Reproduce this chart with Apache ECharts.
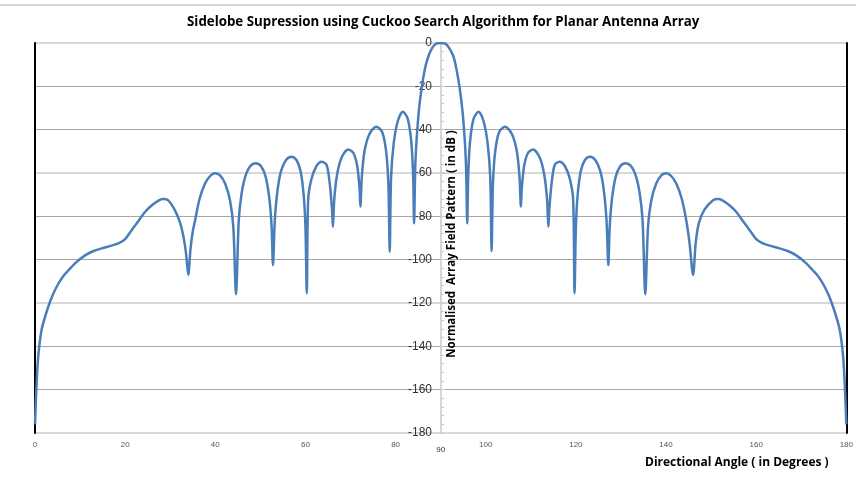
<!DOCTYPE html>
<html>
<head>
<meta charset="utf-8">
<script src="https://cdn.jsdelivr.net/npm/echarts@6/dist/echarts.min.js"></script>
<style>
  html, body { margin: 0; padding: 0; background: #fff; }
  #pattern-chart { width: 856px; height: 477px; }
</style>
</head>
<body>
<div id="pattern-chart"></div>
<script>
// directional angle (degrees) and normalised array field pattern (dB)
const angles = [
  0, 0.3, 0.7, 1.5, 2.9, 4.0, 5.2, 6.3, 7.4, 9.0, 11.1, 13.0, 14.8, 17.0, 18.5, 20.0,
  21.4, 23.0, 24.4, 26.0, 27.5, 28.4, 29.5, 31.0, 32.2, 32.9, 33.5, 34.0,
  34.5, 35.0, 35.5, 36.5, 37.7, 38.8, 39.9, 41.0, 42.2, 43.3, 44.0, 44.6,
  45.2, 45.8, 46.6, 47.7, 49.0, 50.2, 51.2, 52.0, 52.5, 52.8,
  53.2, 53.8, 54.6, 55.7, 56.9, 58.0, 58.9, 59.6, 60.0, 60.3,
  60.6, 61.3, 62.4, 63.6, 64.7, 65.4, 65.9, 66.1,
  66.4, 67.0, 68.0, 69.5, 70.7, 71.5, 72.0, 72.2,
  72.5, 73.1, 74.2, 75.7, 77.0, 77.9, 78.4, 78.7,
  79.0, 79.6, 80.5, 81.6, 82.7, 83.5, 83.9, 84.1,
  84.4, 85.0, 85.7, 86.5, 87.3, 88.2, 89.0, 90.0,
  91.0, 91.8, 92.8, 93.5, 94.3, 95.0, 95.6, 95.9,
  96.1, 96.5, 97.3, 98.4, 99.5, 100.4, 101.0, 101.3,
  101.6, 102.1, 103.0, 104.3, 105.8, 106.9, 107.5, 107.8,
  108.0, 108.5, 109.3, 110.5, 112.0, 113.0, 113.6, 113.9,
  114.1, 114.6, 115.3, 116.4, 117.6, 118.7, 119.4, 119.7,
  120.0, 120.4, 121.1, 122.0, 123.1, 124.3, 125.4, 126.2, 126.8, 127.2,
  127.5, 128.0, 128.8, 129.8, 131.0, 132.3, 133.4, 134.2, 134.8, 135.4,
  136.0, 136.7, 137.8, 139.0, 140.1, 141.2, 142.3, 143.5, 144.5, 145.2, 146.0,
  146.6, 147.3, 148.5, 150.5, 151.6, 152.5, 154.0, 155.6, 157.0, 158.6,
  160.0, 161.5, 163.0, 165.2, 167.0, 168.9, 171.0, 172.6, 173.7, 174.8,
  176.0, 177.1, 178.5, 179.3, 179.7, 180
];
const fieldDb = [
  -176, -160, -145, -132, -122, -116, -111, -107.5, -105, -101.5, -98, -96, -94.8, -93.5, -92.5, -90.5,
  -86.5, -82, -78, -74.8, -72.6, -72, -72.5, -77, -83, -89, -97, -107,
  -95, -87, -82, -72, -65, -61.5, -60.1, -61, -65, -73, -85, -116,
  -82, -70, -62, -57, -55.5, -57, -62, -72, -85, -102.5,
  -82, -68, -59, -54, -52.5, -54, -59, -70, -85, -115.5,
  -72.5, -63, -57, -54.8, -56.3, -65, -77, -84.8,
  -72, -61, -53, -49.1, -51, -57, -67, -75.5,
  -62, -50, -42, -38.6, -41, -50, -65, -96.3,
  -62, -46, -36, -31.7, -35, -46, -62, -83.2,
  -55, -35, -22, -12, -6, -2, -0.3, 0,
  -0.3, -2, -6, -12, -22, -35, -55, -83.2,
  -62, -46, -35, -31.7, -36, -46, -62, -96,
  -65, -50, -41, -38.6, -42, -50, -62, -75.5,
  -67, -57, -51, -49.1, -53, -61, -72, -84.8,
  -77, -65, -56.3, -54.8, -57, -63, -72.5, -115.5,
  -85, -70, -59, -54, -52.5, -54, -59, -68, -82, -102.5,
  -85, -72, -62, -57, -55.5, -57, -62, -70, -82, -116,
  -85, -73, -65, -61, -60.1, -61.5, -65, -72, -82, -92, -107,
  -92, -83, -77, -72.5, -72, -72.6, -74.8, -78, -82, -86.5,
  -90.5, -92.5, -93.5, -94.8, -96, -98, -101.5, -105, -107.5, -111,
  -116, -122, -132, -145, -160, -176
];
const xTicks = [0, 20, 40, 60, 80, 90, 100, 120, 140, 160, 180];

const lineColor = '#4a7ebb';
const lightGrid = '#d9d9d9';
const darkGrid = '#a6a6a6';

const chart = echarts.init(document.getElementById('pattern-chart'));

const option = {
  backgroundColor: '#fff',
  animation: false,
  title: [
    {
      text: 'Sidelobe Supression using Cuckoo Search Algorithm for Planar Antenna Array',
      left: 182,
      top: 11,
      textStyle: {
        fontFamily: 'Open Sans',
        fontWeight: 'bold',
        fontSize: 13.3,
        color: '#000'
      }
    },
    {
      text: 'Directional Angle ( in Degrees )',
      left: 640,
      top: 452,
      textStyle: {
        fontFamily: 'Open Sans',
        fontWeight: 'bold',
        fontSize: 12,
        color: '#000'
      }
    }
  ],
  graphic: [
    {
      type: 'line',
      shape: { x1: 0, y1: 5, x2: 856, y2: 5 },
      style: { stroke: '#c8c8c8', lineWidth: 1.5 }
    },
    {
      // y axis title, sits just right of the centre axis
      type: 'text',
      x: 452,
      y: 244,
      rotation: Math.PI / 2,
      z: 10,
      style: {
        text: 'Normalised  Array Field Pattern ( in dB )',
        fontFamily: 'Open Sans',
        fontWeight: 'bold',
        fontSize: 11.5,
        fill: '#000',
        align: 'center',
        verticalAlign: 'middle'
      }
    }
  ],
  grid: {
    left: 35,
    right: 9,
    top: 43,
    bottom: 44
  },
  xAxis: {
    type: 'value',
    min: 0,
    max: 180,
    interval: 10,
    axisLine: { show: false },
    axisTick: { show: false },
    splitLine: { show: false },
    axisLabel: {
      margin: 8,
      fontFamily: 'Liberation Sans',
      fontSize: 8,
      color: '#555',
      formatter: function(v) {
        if (v === 90) return '{mid|90}';
        return xTicks.indexOf(v) >= 0 ? String(v) : '';
      },
      rich: {
        mid: {
          fontFamily: 'Liberation Sans',
          fontSize: 8,
          color: '#333',
          padding: [5, 0, 0, 0]
        }
      }
    }
  },
  yAxis: [
    {
      type: 'value',
      min: -180,
      max: 0,
      interval: 20,
      position: 'left',
      offset: -406,
      axisLine: { show: true, lineStyle: { color: '#c8c8c8', width: 1.5 } },
      axisTick: { show: true, inside: true, length: 4, lineStyle: { color: '#c8c8c8' } },
      minorTick: { show: true, splitNumber: 5, length: 3, lineStyle: { color: '#c8c8c8' } },
      axisLabel: {
        margin: 9,
        fontFamily: 'Liberation Sans',
        fontSize: 12,
        color: '#333'
      },
      splitLine: {
        lineStyle: { color: [lightGrid, darkGrid, darkGrid], width: 1 }
      }
    },
    {
      type: 'value',
      min: -180,
      max: 0,
      interval: 60,
      position: 'left',
      axisLine: { show: true, lineStyle: { color: '#000', width: 2 } },
      axisTick: { show: false },
      axisLabel: { show: false },
      splitLine: { show: true, lineStyle: { color: lightGrid, width: 2 } }
    },
    {
      type: 'value',
      min: -180,
      max: 0,
      interval: 60,
      position: 'right',
      axisLine: { show: true, lineStyle: { color: '#000', width: 2 } },
      axisTick: { show: false },
      axisLabel: { show: false },
      splitLine: { show: false }
    }
  ],
  series: [
    {
      name: 'Array Field Pattern',
      type: 'line',
      yAxisIndex: 0,
      showSymbol: false,
      smooth: 0.3,
      lineStyle: { color: lineColor, width: 2.5 },
      data: angles.map((a, i) => [a, fieldDb[i]]),
      z: 5
    }
  ]
};

chart.setOption(option);
</script>
</body>
</html>
